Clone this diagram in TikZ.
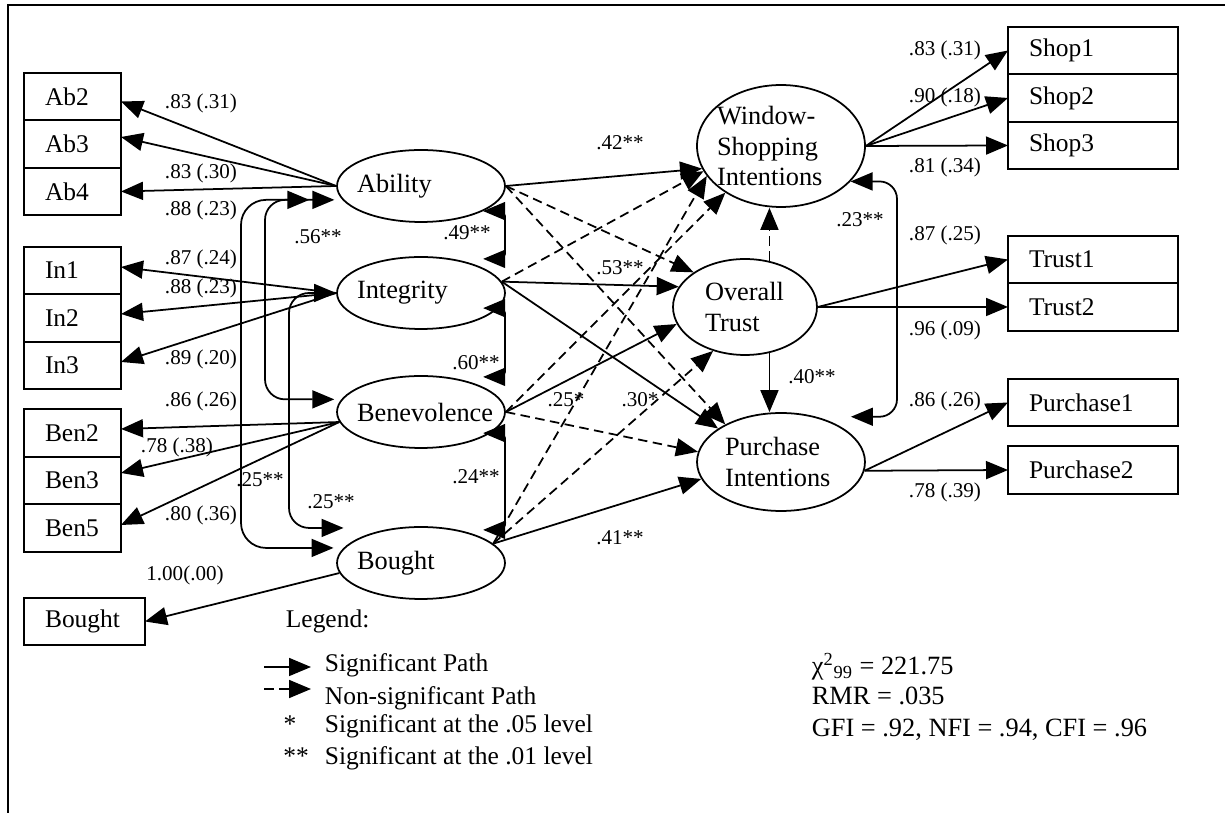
\documentclass[tikz,border=0pt]{standalone}
\usepackage{fontspec}
\setmainfont{Liberation Serif}
\usetikzlibrary{shapes.geometric,arrows.meta,positioning}
\begin{document}
\begin{tikzpicture}[x=0.02cm, y=-0.02cm,
	line width=1pt,
	>={Triangle[length=0.44cm,width=0.36cm]},
	latent/.style={ellipse, draw, inner xsep=-0.12cm, inner ysep=0pt, align=left,
		font=\fontsize{15}{17.6}\selectfont},
	indicator/.style={rectangle, draw, line width=1.2pt, outer sep=0pt,
		minimum height=0.95cm, inner xsep=0.42cm, text width=#1, align=left,
		font=\fontsize{14.5}{17}\selectfont},
	est/.style={inner sep=0pt, font=\fontsize{12}{14}\selectfont},
	legtext/.style={anchor=west, inner sep=0pt, text height=0.7em, text depth=0.22em,
		font=\fontsize{14.5}{17}\selectfont},
	sig/.style={->},
	nonsig/.style={->, dash pattern=on 0.19cm off 0.11cm},
	covar/.style={<->, rounded corners=#1},
	covar/.default=0.1cm]

	\useasboundingbox (0,0) rectangle (1225,813);
	\draw[line width=1.2pt] (8,813) -- (8,5) -- (1225,5);

	\node[indicator=1.1cm] (ab2) at (72.5,96.5) {Ab2};
	\node[indicator=1.1cm, below=0pt of ab2] (ab3) {Ab3};
	\node[indicator=1.1cm, below=0pt of ab3] (ab4) {Ab4};
	\node[indicator=1.1cm] (in1) at (72.5,270.5) {In1};
	\node[indicator=1.1cm, below=0pt of in1] (in2) {In2};
	\node[indicator=1.1cm, below=0pt of in2] (in3) {In3};
	\node[indicator=1.1cm] (ben2) at (72.5,433) {Ben2};
	\node[indicator=1.1cm, below=0pt of ben2] (ben3) {Ben3};
	\node[indicator=1.1cm, below=0pt of ben3] (ben5) {Ben5};
	\node[indicator=1.58cm] (bbox) at (84.5,621.5) {Bought};

	\node[indicator=2.56cm] (shop1) at (1093,50.5) {Shop1};
	\node[indicator=2.56cm, below=0pt of shop1] (shop2) {Shop2};
	\node[indicator=2.56cm, below=0pt of shop2] (shop3) {Shop3};
	\node[indicator=2.56cm] (trust1) at (1093,259.5) {Trust1};
	\node[indicator=2.56cm, below=0pt of trust1] (trust2) {Trust2};
	\node[indicator=2.56cm] (pur1) at (1093,402.5) {Purchase1};
	\node[indicator=2.56cm] (pur2) at (1093,470) {Purchase2};

	\node[latent, text width=2.56cm, minimum width=3.36cm, minimum height=1.44cm] (abil) at (421,186) {Ability};
	\node[latent, text width=2.56cm, minimum width=3.36cm, minimum height=1.44cm] (integ) at (421,293) {Integrity};
	\node[latent, text width=2.56cm, minimum width=3.36cm, minimum height=1.44cm] (benev) at (421,412) {Benevolence};
	\node[latent, text width=2.56cm, minimum width=3.36cm, minimum height=1.44cm] (bought) at (421,563) {Bought};
	\node[latent, text width=2.56cm, minimum width=3.36cm, minimum height=2.44cm] (wsi) at (781,146) {Window-\\Shopping\\Intentions};
	\node[latent, text width=1.6cm, minimum width=2.88cm, minimum height=1.92cm] (ot) at (745,307) {Overall\\Trust};
	\node[latent, text width=2.24cm, minimum width=3.36cm, minimum height=1.96cm] (pi) at (781,462) {Purchase\\Intentions};

	\draw[sig] (abil.west) -- ([yshift=-0.1cm]ab2.east);
	\draw[sig] (abil.west) -- ([yshift=0.14cm]ab3.east);
	\draw[sig] (abil.west) -- (ab4.east);
	\draw[sig] (integ.west) -- ([yshift=0.07cm]in1.east);
	\draw[sig] (integ.west) -- ([yshift=0.08cm]in2.east);
	\draw[sig] (integ.west) -- ([yshift=0.07cm]in3.east);
	\draw[sig] (benev.187) -- ([yshift=0.08cm]ben2.east);
	\draw[sig] (benev.187) -- ([yshift=0.15cm]ben3.east);
	\draw[sig] (benev.187) -- ([yshift=0.06cm]ben5.east);
	\draw[sig] (bought.187) -- (bbox.east);

	\draw[sig] (wsi.east) -- (shop1.west);
	\draw[sig] (wsi.east) -- (shop2.west);
	\draw[sig] (wsi.east) -- (shop3.west);
	\draw[sig] (ot.east) -- (trust1.west);
	\draw[sig] (ot.east) -- (trust2.west);
	\draw[sig] (pi.-6) -- (pur1.west);
	\draw[sig] (pi.-6) -- (pur2.west);

	\draw[sig] (abil.east) -- (wsi.196);
	\draw[nonsig] (abil.east) -- (ot.146);
	\draw[nonsig] (abil.east) -- (pi.146);
	\draw[nonsig] (integ.8) -- (wsi.198);
	\draw[sig] (integ.8) -- (ot.163);
	\draw[sig] (integ.8) -- (pi.152);
	\draw[nonsig] (benev.east) -- (wsi.220);
	\draw[sig] (benev.east) -- (ot.194);
	\draw[nonsig] (benev.east) -- (pi.173);
	\draw[nonsig] (bought.15) -- (wsi.202);
	\draw[nonsig] (bought.15) -- (ot.234);
	\draw[sig] (bought.15) -- (pi.192);
	\draw[nonsig] (ot.62) -- (ot.62 |- wsi.south);
	\draw[sig] (ot.-62) -- (ot.-62 |- pi.north);

	\draw[covar=0.5cm] ([xshift=-0.66cm]abil.190) -| (241,380) |- ([xshift=-0.2cm]bought.169);
	\draw[covar=0.4cm] ([xshift=-0.16cm]abil.190) -| (265,300) |- ([xshift=-0.14cm]benev.171);
	\draw[covar=0.4cm] (integ.west) -| (289,400) |- ([yshift=0.4cm]bought.169);
	\draw[covar] (abil.-22) -| (505,236) |- ([yshift=0.18cm]integ.22);
	\draw[covar] ([yshift=0.2cm]integ.-22) -| (505,345) |- ([yshift=0.2cm]benev.22);
	\draw[covar] ([yshift=0.08cm]benev.-22) -| (505,480) |- ([yshift=0.16cm]bought.22);
	\draw[covar=0.35cm] (wsi.-27) -| (897,300) |- ([yshift=0.34cm]pi.22);

	\node[est] (ab2est) at (201,103) {.83 (.31)};
	\node[est] (ab3est) at (201,173) {.83 (.30)};
	\node[est] (ab4est) at (201,210) {.88 (.23)};
	\node[est] (in1est) at (201,259) {.87 (.24)};
	\node[est] (in2est) at (201,288) {.88 (.23)};
	\node[est] (in3est) at (201,359) {.89 (.20)};
	\node[est] (ben2est) at (201,401) {.86 (.26)};
	\node[est] (ben3est) at (177,447) {.78 (.38)};
	\node[est] (ben5est) at (201,515) {.80 (.36)};
	\node[est] (bboxest) at (185,575) {1.00(.00)};
	\node[est] (shop1est) at (945,50) {.83 (.31)};
	\node[est] (shop2est) at (945,97) {.90 (.18)};
	\node[est] (shop3est) at (945,167) {.81 (.34)};
	\node[est] (trust1est) at (945,235) {.87 (.25)};
	\node[est] (trust2est) at (945,330) {.96 (.09)};
	\node[est] (pur1est) at (945,401) {.86 (.26)};
	\node[est] (pur2est) at (945,492) {.78 (.39)};

	\node[est] (abbenr) at (318,237) {.56**};
	\node[est] (abbor) at (260,480) {.25**};
	\node[est] (inbor) at (331,502) {.25**};
	\node[est] (abinr) at (467,233) {.49**};
	\node[est] (inbenr) at (476,363) {.60**};
	\node[est] (benbor) at (476,477) {.24**};
	\node[est] (wsipir) at (860,220) {.23**};

	\node[est] (abwsi) at (620,143) {.42**};
	\node[est] (inot) at (620,268) {.53**};
	\node[est] (inpi) at (566,400) {.25*};
	\node[est] (benot) at (640,400) {.30*};
	\node[est] (bopi) at (620,538) {.41**};
	\node[est] (otpi) at (812,377) {.40**};

	\node[legtext] (legend) at (285,623) {Legend:};
	\node[legtext] (sigtxt) at (324,667) {Significant Path};
	\node[legtext] (nstxt) at (324,700) {Non-significant Path};
	\node[legtext] (p05) at (324,728) {Significant at the .05 level};
	\node[legtext] (p01) at (324,760) {Significant at the .01 level};
	\node[legtext, anchor=center] (star1) at (290,728) {*};
	\node[legtext, anchor=center] (star2) at (296,760) {**};
	\draw[sig] ([xshift=-1.2cm]sigtxt.west) -- ([xshift=-0.26cm]sigtxt.west);
	\draw[nonsig] ([xshift=-1.2cm, yshift=0.22cm]nstxt.west) -- ([xshift=-0.26cm, yshift=0.22cm]nstxt.west);

	\node[legtext, font=\fontsize{15}{17}\selectfont] (chisq) at (811,670) {χ\textsuperscript{2}\textsubscript{99} = 221.75};
	\node[legtext, font=\fontsize{15}{17}\selectfont] (rmr) at (811,700) {RMR = .035};
	\node[legtext, font=\fontsize{15}{17}\selectfont] (fit) at (811,732) {GFI = .92, NFI = .94, CFI = .96};
\end{tikzpicture}
\end{document}
